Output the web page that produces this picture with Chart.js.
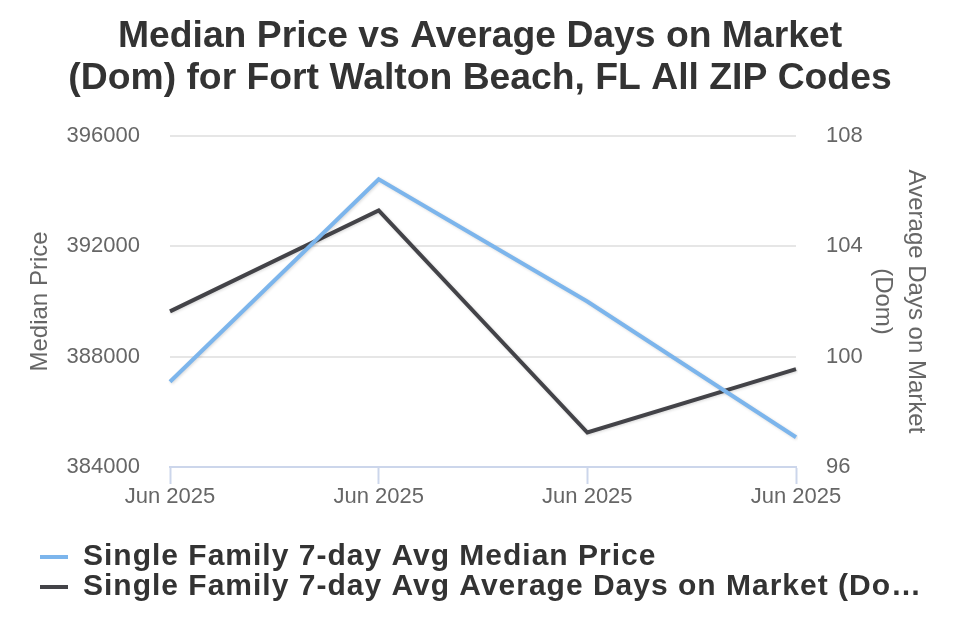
<!DOCTYPE html>
<html>
<head>
<meta charset="utf-8">
<script src="https://cdn.jsdelivr.net/npm/chart.js@4/dist/chart.umd.min.js"></script>
<style>
  html, body { margin: 0; padding: 0; background: #fff; }
  #wrap { width: 960px; height: 640px; }
</style>
</head>
<body>
<div id="wrap"><canvas id="priceChart" width="960" height="640"></canvas></div>
<script>
// Andmed pildilt loetud
const labels = ['Jun 2025', 'Jun 2025', 'Jun 2025', 'Jun 2025'];
const medianPrice = [387090, 394430, 390000, 385080];
const daysOnMarket = [101.64, 105.3, 97.25, 99.55];
const priceTicks = [384000, 388000, 392000, 396000];
const domTicks = [96, 100, 104, 108];

const FONT = "'Liberation Sans', Arial, sans-serif";

// varjuga jooned
const shadowPlugin = {
    id: 'lineShadow',
    beforeDatasetDraw(chart) {
        const ctx = chart.ctx;
        ctx.save();
        ctx.shadowColor = 'rgba(0,0,0,0.15)';
        ctx.shadowBlur = 3;
        ctx.shadowOffsetX = 1;
        ctx.shadowOffsetY = 1;
    },
    afterDatasetDraw(chart) {
        chart.ctx.restore();
    }
};

// pealkiri keskele üle kogu lõuendi, legendi tekst veidi laiemaks
const tweakPlugin = {
    id: 'tweaks',
    afterInit(chart) {
        const legend = chart.legend;
        if (legend) {
            const origDraw = legend.draw.bind(legend);
            legend.draw = function (area) {
                chart.ctx.save();
                chart.ctx.letterSpacing = '1px';
                origDraw(area);
                chart.ctx.restore();
            };
        }
    },
    afterLayout(chart) {
        if (chart.titleBlock) {
            chart.titleBlock.left = 0;
            chart.titleBlock.right = chart.width;
        }
    }
};

const ctx = document.getElementById('priceChart').getContext('2d');
const chart = new Chart(ctx, {
    type: 'line',
    data: {
        labels: labels,
        datasets: [{
            label: 'Single Family 7-day Avg Median Price',
            data: medianPrice,
            borderColor: '#7cb5ec',
            backgroundColor: '#7cb5ec',
            borderWidth: 4,
            pointRadius: 0,
            tension: 0,
            yAxisID: 'y'
        }, {
            label: 'Single Family 7-day Avg Average Days on Market (Dom)',
            data: daysOnMarket,
            borderColor: '#434348',
            backgroundColor: '#434348',
            borderWidth: 4,
            pointRadius: 0,
            tension: 0,
            yAxisID: 'y1'
        }]
    },
    options: {
        responsive: false,
        animation: false,
        layout: { padding: { left: 40, right: 24, top: 10, bottom: 28 } },
        scales: {
            x: {
                offset: false,
                afterFit: axis => { axis.height = 75; },
                grid: { display: true, drawOnChartArea: false, drawTicks: true, tickLength: 17, tickColor: '#ccd6eb', tickWidth: 2 },
                border: { color: '#ccd6eb', width: 2 },
                ticks: { color: '#666666', font: { family: FONT, size: 22 }, padding: 0, maxRotation: 0, autoSkip: false }
            },
            y: {
                position: 'left',
                min: priceTicks[0],
                max: priceTicks[priceTicks.length - 1],
                afterBuildTicks: axis => { axis.ticks = priceTicks.map(v => ({ value: v })); },
                afterFit: axis => { axis.width = 130; },
                grid: { color: '#e6e6e6', lineWidth: 2, drawTicks: false },
                border: { display: false },
                ticks: { color: '#666666', font: { family: FONT, size: 22 }, padding: 30, callback: v => String(v) },
                title: { display: true, text: 'Median Price', color: '#666666', font: { family: FONT, size: 24 }, padding: { top: -14, bottom: 14 } }
            },
            y1: {
                position: 'right',
                min: domTicks[0],
                max: domTicks[domTicks.length - 1],
                afterBuildTicks: axis => { axis.ticks = domTicks.map(v => ({ value: v })); },
                afterFit: axis => { axis.width = 140; },
                grid: { display: false, drawTicks: false },
                border: { display: false },
                ticks: { color: '#666666', font: { family: FONT, size: 22 }, padding: 30, callback: v => String(v) },
                title: { display: true, text: ['Average Days on Market', '(Dom)'], color: '#666666', font: { family: FONT, size: 24, lineHeight: 1.375 }, padding: { top: 4 } }
            }
        },
        plugins: {
            title: {
                display: true,
                text: ['Median Price vs Average Days on Market', '(Dom) for Fort Walton Beach, FL All ZIP Codes'],
                color: '#333333',
                font: { family: FONT, size: 37.3, weight: 'bold', lineHeight: 1.125 },
                padding: { top: 6, bottom: 36 }
            },
            legend: {
                position: 'bottom',
                align: 'start',
                labels: {
                    color: '#333333',
                    font: { family: FONT, size: 30, weight: 'bold' },
                    boxWidth: 28,
                    boxHeight: 4,
                    padding: 0,
                    generateLabels: function (chart) {
                        const items = Chart.defaults.plugins.legend.labels.generateLabels(chart);
                        items.forEach(item => {
                            // pikk nimi lõigatakse nagu originaalis
                            if (item.text.length > 50) item.text = item.text.slice(0, 50) + '…';
                            item.lineWidth = 0;
                        });
                        return items;
                    }
                }
            },
            tooltip: { enabled: false }
        }
    },
    plugins: [shadowPlugin, tweakPlugin]
});
</script>
</body>
</html>
